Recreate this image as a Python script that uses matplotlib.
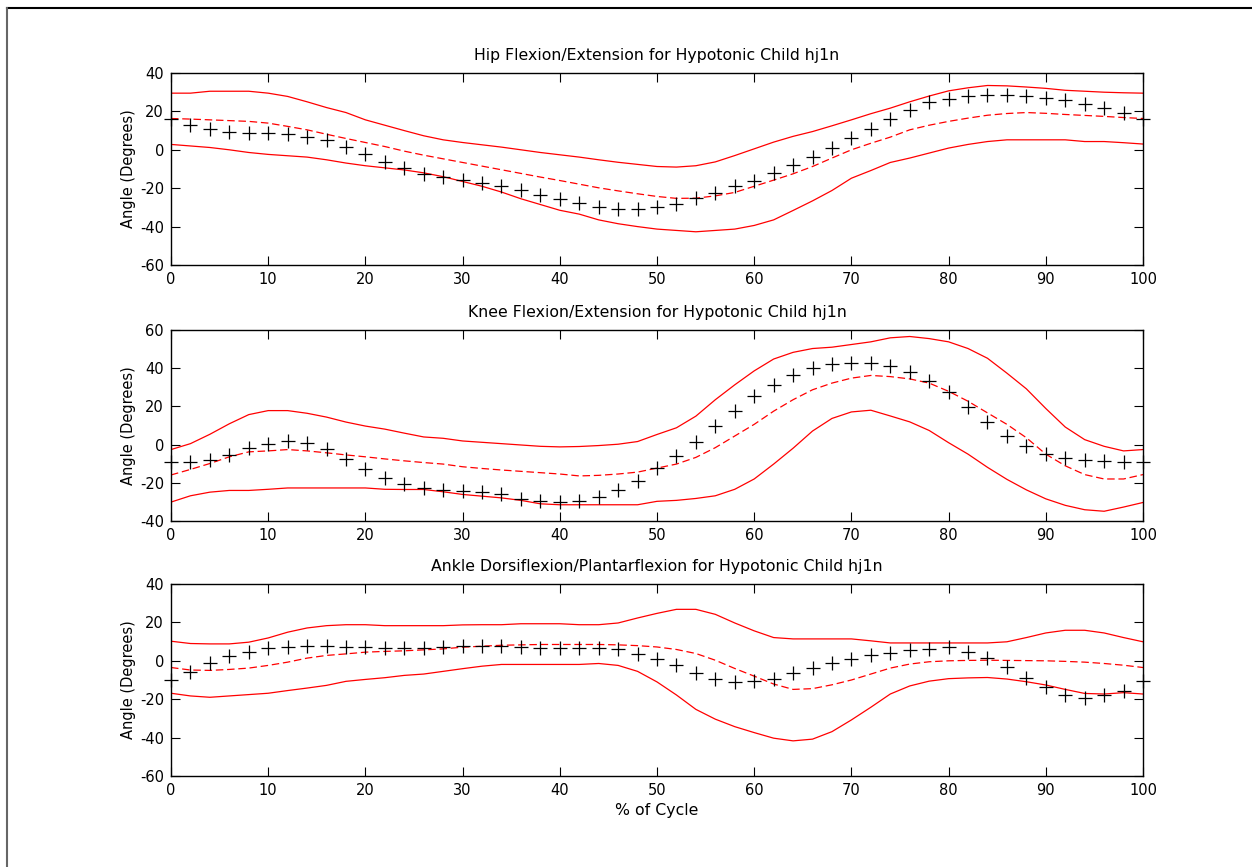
"""
plot.py
=======
Gait kinematics for hypotonic child hj1n: hip, knee and ankle angles over one
gait cycle, with the normal band (upper / mean / lower) and the child's values.
"""

import matplotlib
import matplotlib.pyplot as plt
from matplotlib.lines import Line2D

matplotlib.use("Agg")

OUTPUT_PNG = "out.png"

# % of gait cycle, every 2 %
CYCLE = list(range(0, 101, 2))

# Hip flexion/extension (degrees)
HIP_UPPER = [29.5, 29.5, 30.5, 30.5, 30.5, 29.5, 27.8, 25.0, 22.0, 19.4,
             15.6, 12.8, 10.0, 7.3, 5.2, 3.8, 2.6, 1.4, 0.0, -1.4,
             -2.6, -3.8, -5.2, -6.5, -7.6, -8.7, -9.0, -8.3, -6.3, -3.0,
             0.5, 4.0, 7.0, 9.5, 12.5, 15.6, 18.8, 21.7, 25.0, 28.0,
             30.7, 32.3, 33.5, 33.3, 32.7, 32.0, 31.0, 30.5, 30.0, 29.7, 29.5]
HIP_MEAN = [16.3, 16.0, 15.6, 15.2, 14.8, 13.9, 12.2, 10.4, 8.1, 5.9,
            3.8, 1.7, -0.7, -2.8, -4.7, -6.6, -8.5, -10.4, -12.3, -14.2,
            -16.0, -17.9, -19.8, -21.4, -22.9, -24.3, -25.3, -25.2, -24.0, -22.2,
            -19.0, -15.8, -12.5, -8.7, -4.3, 0.0, 3.4, 6.6, 10.4, 12.8,
            14.8, 16.5, 18.0, 18.9, 19.4, 19.0, 18.4, 17.9, 17.4, 16.8, 16.3]
HIP_LOWER = [2.8, 2.0, 1.2, 0.0, -1.4, -2.4, -3.1, -3.8, -5.2, -6.9,
             -8.3, -9.4, -10.5, -12.0, -14.0, -16.5, -19.0, -22.0, -25.5, -28.5,
             -31.5, -33.5, -36.5, -38.5, -40.0, -41.3, -42.0, -42.7, -42.0, -41.3,
             -39.4, -36.5, -31.6, -26.6, -21.2, -14.8, -10.8, -6.6, -4.3, -1.7,
             0.9, 2.8, 4.3, 5.2, 5.2, 5.2, 5.2, 4.3, 4.3, 3.7, 3.0]
HIP_CHILD = [16.0, 12.8, 10.8, 9.4, 8.7, 8.7, 8.0, 6.6, 5.2, 1.4,
             -2.1, -6.2, -9.4, -12.5, -14.2, -15.6, -17.4, -18.8, -20.8, -23.4,
             -25.7, -27.8, -29.9, -30.6, -30.6, -29.9, -28.1, -25.3, -22.6, -19.1,
             -16.0, -12.2, -8.0, -3.5, 0.7, 6.3, 10.8, 16.0, 20.5, 24.7,
             26.4, 27.8, 28.5, 28.5, 27.8, 27.1, 25.7, 24.0, 21.7, 19.1, 16.0]

# Knee flexion/extension (degrees)
KNEE_UPPER = [-2.6, 0.5, 5.4, 10.9, 15.7, 17.8, 17.8, 16.4, 14.4, 11.8,
              9.7, 8.1, 6.0, 4.0, 3.3, 1.9, 1.2, 0.5, -0.2, -0.9,
              -1.2, -1.0, -0.5, 0.2, 1.6, 5.3, 8.8, 14.9, 23.5, 31.3,
              38.6, 44.8, 48.3, 50.3, 51.0, 52.4, 53.8, 55.9, 56.6, 55.5,
              53.8, 50.3, 45.2, 37.4, 29.2, 18.9, 9.2, 2.6, -0.9, -3.3, -2.6]
KNEE_MEAN = [-15.9, -13.0, -9.9, -6.4, -3.8, -3.3, -2.6, -3.3, -4.3, -5.4,
             -6.4, -7.5, -8.5, -9.4, -10.2, -11.6, -12.5, -13.3, -14.0, -14.7,
             -15.4, -16.4, -16.1, -15.4, -14.4, -12.3, -10.2, -6.7, -1.6, 4.5,
             10.6, 17.5, 23.5, 28.7, 32.2, 34.8, 36.2, 35.6, 34.4, 32.2,
             27.9, 22.7, 16.6, 10.6, 3.6, -5.0, -11.1, -15.7, -18.0, -18.0, -15.7]
KNEE_LOWER = [-30.1, -26.8, -24.9, -24.0, -24.0, -23.4, -22.7, -22.7, -22.7, -22.7,
              -22.7, -23.4, -23.5, -23.5, -24.7, -26.1, -27.0, -27.9, -29.2, -31.0,
              -31.5, -31.5, -31.5, -31.5, -31.5, -29.7, -29.2, -28.2, -26.8, -23.4,
              -18.0, -10.2, -1.9, 7.1, 13.7, 17.1, 18.0, 15.0, 11.9, 7.4,
              1.0, -5.0, -11.9, -18.2, -23.7, -28.4, -31.8, -34.1, -34.9, -32.7, -30.3]
KNEE_CHILD = [-9.3, -9.3, -8.0, -5.4, -1.6, 0.2, 1.7, 1.0, -2.4, -7.6,
              -12.8, -17.5, -20.6, -22.8, -23.7, -24.4, -24.7, -26.1, -28.4, -29.6,
              -30.3, -29.6, -27.2, -23.7, -18.9, -12.5, -5.9, 1.6, 9.7, 17.8,
              25.3, 31.0, 36.5, 40.0, 42.0, 42.9, 42.9, 41.3, 38.2, 33.4,
              27.3, 19.9, 11.8, 4.3, -0.9, -5.0, -7.1, -8.1, -8.5, -9.3, -9.0]

# Ankle dorsiflexion/plantarflexion (degrees)
ANKLE_UPPER = [10.2, 9.0, 8.8, 8.8, 9.7, 11.9, 14.9, 17.1, 18.3, 18.8,
               18.8, 18.3, 18.3, 18.3, 18.3, 18.7, 18.8, 18.8, 19.3, 19.3,
               19.3, 18.8, 18.8, 19.7, 22.3, 24.7, 26.8, 26.8, 24.2, 19.7,
               15.6, 12.1, 11.4, 11.4, 11.4, 11.4, 10.4, 9.3, 9.3, 9.3,
               9.3, 9.3, 9.3, 9.9, 12.1, 14.5, 15.9, 15.9, 14.5, 12.1, 9.9]
ANKLE_MEAN = [-3.5, -4.8, -5.0, -4.5, -3.8, -2.4, -0.7, 1.4, 2.8, 3.6,
              4.5, 4.9, 5.2, 5.7, 6.2, 7.1, 7.6, 8.1, 8.3, 8.5,
              8.5, 8.5, 8.5, 8.3, 7.9, 7.2, 5.9, 3.8, 0.3, -4.0,
              -8.0, -12.1, -14.9, -14.5, -12.5, -10.0, -6.9, -3.8, -1.7, -0.5,
              0.0, 0.2, 0.3, 0.2, 0.1, 0.0, -0.3, -0.7, -1.4, -2.3, -3.5]
ANKLE_LOWER = [-16.9, -18.3, -19.0, -18.3, -17.6, -16.9, -15.5, -14.2, -12.8, -10.7,
               -9.7, -8.8, -7.6, -6.9, -5.5, -4.1, -2.8, -1.9, -1.9, -1.9,
               -1.9, -1.9, -1.4, -2.4, -5.5, -11.0, -17.8, -25.3, -30.4, -34.3,
               -37.4, -40.3, -41.7, -40.8, -36.9, -30.8, -24.2, -17.3, -13.1, -10.6,
               -9.3, -8.9, -8.7, -9.5, -10.9, -12.6, -14.9, -17.0, -17.3, -16.6, -17.3]
ANKLE_CHILD = [-10.2, -5.9, -1.4, 2.4, 4.5, 6.7, 7.3, 7.9, 7.9, 7.3,
               7.3, 6.6, 6.6, 6.6, 7.3, 7.8, 7.9, 7.9, 7.3, 6.6,
               6.6, 6.6, 6.7, 5.9, 3.8, 0.9, -2.4, -6.2, -9.3, -11.1,
               -10.6, -9.3, -6.2, -3.8, -1.4, 1.0, 2.9, 4.2, 5.5, 6.2,
               7.3, 4.8, 1.7, -3.1, -8.7, -13.8, -18.0, -19.6, -18.0, -15.6, -10.6]

TITLES = ["Hip Flexion/Extension for Hypotonic Child hj1n",
          "Knee Flexion/Extension for Hypotonic Child hj1n",
          "Ankle Dorsiflexion/Plantarflexion for Hypotonic Child hj1n"]
Y_LIMITS = [(-60, 40), (-40, 60), (-60, 40)]
X_TICKS = list(range(0, 101, 10))

# axes boxes in pixels (left, top, right, bottom) on a 1252x867 canvas
W, H = 1252, 867
BOXES = [(171, 73, 1143, 265), (171, 330, 1143, 521), (171, 584, 1143, 776)]

plt.rcParams["font.family"] = ["DejaVu Sans"]
plt.rcParams["font.size"] = 10.5
plt.rcParams["axes.unicode_minus"] = False   # plain hyphen like the original


def draw_joint(ax, upper, mean, lower, child, title, ylim):
    """Normal band (red) plus the child's values (black +)."""
    ax.plot(CYCLE, upper, color="red", lw=0.9)
    ax.plot(CYCLE, lower, color="red", lw=0.9)
    ax.plot(CYCLE, mean, color="red", lw=0.9, linestyle=(0, (6, 3)))
    ax.plot(CYCLE, child, linestyle="none", marker="+", color="black",
            markersize=10, markeredgewidth=0.9, clip_on=False)

    ax.set_xlim(0, 100)
    ax.set_ylim(*ylim)
    ax.set_xticks(X_TICKS)
    ax.set_yticks(range(ylim[0], ylim[1] + 1, 20))
    ax.tick_params(direction="in", top=True, right=True, length=6.5,
                   width=0.8, pad=5, labelsize=10.5)
    for sp in ax.spines.values():
        sp.set_linewidth(1.0)
    ax.set_title(title, fontsize=11.3, pad=9)
    ax.set_ylabel("Angle (Degrees)", fontsize=10.5, labelpad=2.5)


def main():
    fig = plt.figure(figsize=(W / 100, H / 100), dpi=100)

    axes = []
    for (l, t, r, b) in BOXES:
        axes.append(fig.add_axes([l / W, 1 - b / H, (r - l) / W, (b - t) / H]))

    series = [(HIP_UPPER, HIP_MEAN, HIP_LOWER, HIP_CHILD),
              (KNEE_UPPER, KNEE_MEAN, KNEE_LOWER, KNEE_CHILD),
              (ANKLE_UPPER, ANKLE_MEAN, ANKLE_LOWER, ANKLE_CHILD)]
    for ax, (up, mn, lo, ch), title, ylim in zip(axes, series, TITLES, Y_LIMITS):
        draw_joint(ax, up, mn, lo, ch, title, ylim)

    axes[-1].set_xlabel("% of Cycle", fontsize=11.3, labelpad=4)

    # frame lines at the top and left edge of the canvas
    fig.add_artist(Line2D([7 / W, 1], [1 - 8 / H, 1 - 8 / H], color="black",
                          lw=1.5, transform=fig.transFigure))
    fig.add_artist(Line2D([7 / W, 7 / W], [0, 1 - 8 / H], color="#666666",
                          lw=1.5, transform=fig.transFigure))

    fig.savefig(OUTPUT_PNG, dpi=100, facecolor="white")
    plt.close(fig)


if __name__ == "__main__":
    main()
